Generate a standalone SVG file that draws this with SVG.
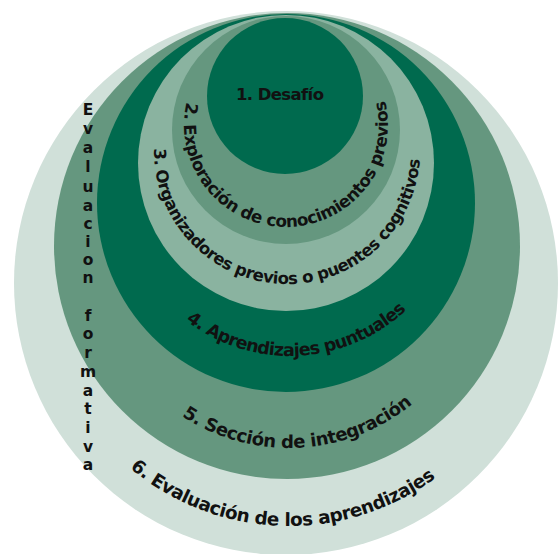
<svg xmlns="http://www.w3.org/2000/svg" width="558" height="554" viewBox="0 0 558 554">
<style>
.light{fill:#d0e0d9}
.mid{fill:#65977f}
.dark{fill:#006a4e}
.pale{fill:#8ab3a0}
.lbl{font-family:"DejaVu Sans","Liberation Sans",sans-serif;font-weight:bold;fill:#111}
</style>
<defs>
<path id="p2" d="M186.61,102.05 A102,102 0 1 0 384.05,96.88"/>
<path id="p3" d="M154.02,148.68 A133,133 0 0 0 419.92,155.64"/>
<path id="p4" d="M186.04,320.5 A170,170 0 0 0 407.2,309.1"/>
<path id="p5" d="M181.94,415.98 A195,195 0 0 0 413.82,402.82"/>
<path id="p6" d="M129.9,467.9 A247,247 0 0 0 436.9,476.8"/>
</defs>
<rect width="558" height="554" fill="#fff"/>
<g id="n6"><circle class="light" cx="286" cy="283" r="272"/></g>
<g id="n5"><circle class="mid" cx="287" cy="246" r="233"/></g>
<g id="n4"><circle class="dark" cx="286" cy="203" r="189"/></g>
<g id="n3"><circle class="pale" cx="286" cy="163" r="148"/></g>
<g id="n2"><circle class="mid" cx="286" cy="130" r="114"/></g>
<g id="n1"><circle class="dark" cx="285" cy="96" r="78"/>
<text class="lbl" x="280" y="100" font-size="16.5" text-anchor="middle" textLength="88" lengthAdjust="spacing">1. Desafío</text></g>
<g id="t2"><text class="lbl" font-size="16.8"><textPath href="#p2" textLength="368" lengthAdjust="spacing">2. Exploración de conocimientos previos</textPath></text></g>
<g id="t3"><text class="lbl" font-size="16.5"><textPath href="#p3" textLength="412" lengthAdjust="spacing">3. Organizadores previos o puentes cognitivos</textPath></text></g>
<g id="t4"><text class="lbl" font-size="17.5"><textPath href="#p4" textLength="240" lengthAdjust="spacing">4. Aprendizajes puntuales</textPath></text></g>
<g id="t5"><text class="lbl" font-size="18"><textPath href="#p5" textLength="247" lengthAdjust="spacing">5. Sección de integración</textPath></text></g>
<g id="t6"><text class="lbl" font-size="18.3"><textPath href="#p6" textLength="330" lengthAdjust="spacing">6. Evaluación de los aprendizajes</textPath></text></g>
<g id="side">
<text class="lbl" font-size="15.5" text-anchor="middle">
<tspan x="88" y="115">E</tspan><tspan x="88" y="134">v</tspan><tspan x="88" y="153">a</tspan><tspan x="88" y="172">l</tspan><tspan x="88" y="192">u</tspan><tspan x="88" y="211">a</tspan><tspan x="88" y="229">c</tspan><tspan x="88" y="247">i</tspan><tspan x="88" y="265">o</tspan><tspan x="88" y="283">n</tspan><tspan x="88" y="321">f</tspan><tspan x="88" y="339">o</tspan><tspan x="88" y="358">r</tspan><tspan x="88" y="377">m</tspan><tspan x="88" y="396">a</tspan><tspan x="88" y="414">t</tspan><tspan x="88" y="433">i</tspan><tspan x="88" y="452">v</tspan><tspan x="88" y="470">a</tspan>
</text>
</g>
</svg>
